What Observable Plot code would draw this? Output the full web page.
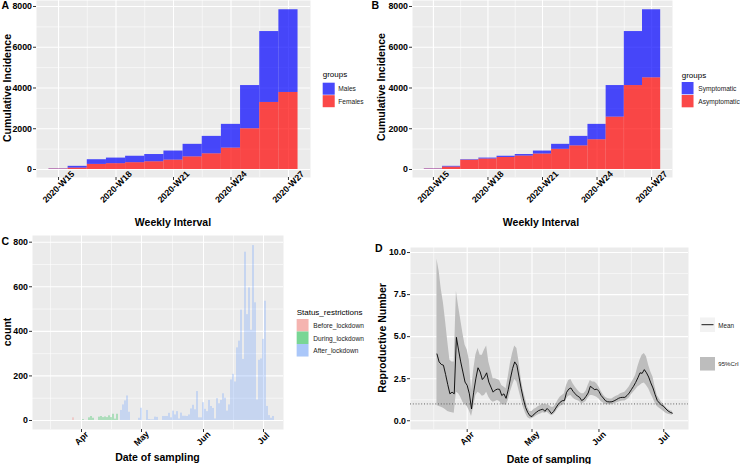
<!DOCTYPE html>
<html>
<head>
<meta charset="utf-8">
<script src="https://cdn.jsdelivr.net/npm/d3@7"></script>
<script src="https://cdn.jsdelivr.net/npm/@observablehq/plot@0.6"></script>
<style>
html,body{margin:0;padding:0;background:#fff;}
#root{position:relative;width:740px;height:464px;overflow:hidden;font-family:"Liberation Sans",Arial,Helvetica,sans-serif;color:#000;}
#root .pane{position:absolute;}
</style>
</head>
<body>
<div id="root"></div>
<script>
// ---------------- DATA ----------------
// Panels A & B : cumulative incidence per ISO week
const weeks = [15,16,17,18,19,20,21,22,23,24,25,26,27];
const weekTicks = [15,18,21,24,27];
const weekMinor = [16.5,19.5,22.5,25.5];
const femalesCum = [20,70,250,285,335,380,460,620,770,1050,2000,3290,3780];
const malesCum   = [15,85,230,275,315,355,445,615,855,1165,2120,3480,4060];
const asymptomaticCum = [20,120,455,515,590,660,760,990,1160,1460,2570,4120,4500];
const symptomaticCum  = [15,35,25,45,60,75,145,245,465,755,1550,2650,3340];
const incidenceTicks = [0,2000,4000,6000,8000];
const incidenceMinor = [1000,3000,5000,7000];

// Panel C : daily counts by date of sampling
const statusNames = ["Before_lockdown","During_lockdown","After_lockdown"];
const statusColors = ["#F8766D","#00BA38","#619CFF"];
const beforeDates = ["2020-03-28"];
const beforeCounts = [12];
const duringDates = ["2020-04-02","2020-04-05","2020-04-06","2020-04-07","2020-04-10","2020-04-11","2020-04-12",
  "2020-04-13","2020-04-14","2020-04-15","2020-04-16","2020-04-17","2020-04-18","2020-04-19"];
const duringCounts = [4,12,18,10,15,18,13,16,13,21,13,28,6,28];
const afterDates = ["2020-04-21","2020-04-22","2020-04-23","2020-04-24","2020-04-25",
  "2020-04-30","2020-05-01","2020-05-04","2020-05-05","2020-05-06","2020-05-07","2020-05-08","2020-05-09",
  "2020-05-12","2020-05-13","2020-05-14","2020-05-15","2020-05-16","2020-05-17","2020-05-18","2020-05-19",
  "2020-05-20","2020-05-21","2020-05-22","2020-05-23","2020-05-24","2020-05-25","2020-05-26","2020-05-27",
  "2020-05-28","2020-05-29","2020-05-30","2020-05-31",
  "2020-06-01","2020-06-02","2020-06-03","2020-06-04","2020-06-05","2020-06-06","2020-06-07","2020-06-08",
  "2020-06-09","2020-06-10","2020-06-11","2020-06-12","2020-06-13","2020-06-14","2020-06-15","2020-06-16",
  "2020-06-17","2020-06-18","2020-06-19","2020-06-20","2020-06-21","2020-06-22","2020-06-23","2020-06-24",
  "2020-06-25","2020-06-26","2020-06-27","2020-06-28","2020-06-29","2020-06-30",
  "2020-07-01","2020-07-02","2020-07-03","2020-07-04","2020-07-05","2020-07-06"];
const afterCounts = [45,70,88,110,37,
  10,55,45,4,3,3,15,14,
  18,18,18,32,12,42,25,40,7,33,19,19,18,25,52,68,48,130,12,12,
  80,50,40,90,63,54,7,98,75,90,120,100,42,70,182,207,173,326,356,495,274,755,475,595,405,785,528,92,270,276,
  364,535,63,22,10,18];
const countTicks = [0,200,400,600,800];
const countMinor = [100,300,500,700];
const monthTicks = ["2020-04-01","2020-05-01","2020-06-01","2020-07-01"];
const monthMinor = ["2020-03-16T12:00Z","2020-04-16","2020-05-16T12:00Z","2020-06-16"];

// Panel D : reproductive number, daily from 2020-03-18 to 2020-07-05
const rStart = "2020-03-18", rEnd = "2020-07-06";
const rMean = [3.97,3.5,3.35,3.3,2.75,2.15,1.6,1.7,1.6,4.96,4.2,3.5,2.9,2.3,
  2.1,1.6,0.7,1.7,2.5,3.15,2.9,2.45,2.6,2.85,2.3,2.0,1.7,1.83,1.88,1.87,1.5,1.6,1.33,1.85,2.5,3.1,3.5,3.3,2.6,1.9,1.3,0.8,0.5,0.3,
  0.25,0.4,0.5,0.6,0.65,0.69,0.56,0.73,0.6,0.42,0.55,0.75,0.95,1.1,1.19,1.2,1.69,1.88,1.95,1.75,1.6,1.47,1.4,1.2,1.28,1.45,1.65,2.05,1.95,1.85,1.88,
  1.75,1.5,1.35,1.19,1.13,1.12,1.13,1.18,1.25,1.33,1.38,1.39,1.39,1.5,1.65,1.85,2.05,2.28,2.55,2.85,2.82,3.04,2.85,2.6,2.25,1.95,1.55,1.2,1.05,0.93,
  0.85,0.7,0.58,0.5,0.45];
const rLow = [0.9,0.85,0.8,0.75,0.65,0.55,0.5,0.48,0.45,1.7,1.6,1.4,1.1,0.95,
  0.85,0.6,0.25,0.8,1.5,1.7,1.6,1.45,1.5,1.7,1.4,1.2,1.1,1.15,1.2,1.15,0.95,0.95,0.9,1.2,1.7,2.1,2.45,2.3,1.8,1.3,0.8,0.45,0.2,0.1,
  0.12,0.2,0.28,0.35,0.4,0.48,0.45,0.5,0.4,0.3,0.35,0.5,0.7,0.85,0.9,0.95,1.3,1.45,1.5,1.35,1.25,1.2,1.15,1.0,1.05,1.15,1.35,1.5,1.5,1.45,1.4,
  1.3,1.15,1.05,0.95,0.95,0.95,0.95,1.0,1.05,1.1,1.15,1.18,1.18,1.25,1.35,1.55,1.7,1.85,2.0,2.1,2.2,2.25,2.1,1.9,1.6,1.35,1.05,0.85,0.75,0.65,
  0.55,0.45,0.38,0.35,0.32];
const rHigh = [9.6,8.9,7.8,7.0,5.9,4.7,3.6,3.5,3.5,7.7,6.8,6.0,5.2,4.5,
  4.2,3.6,1.8,3.0,3.9,4.3,3.9,3.9,4.2,4.45,3.5,3.0,2.5,2.5,2.45,2.4,2.1,2.0,1.9,2.6,3.4,4.0,4.45,4.3,3.5,2.5,1.8,1.3,0.8,0.55,
  0.55,0.69,0.75,0.85,0.9,0.99,0.95,0.95,0.9,0.8,0.8,0.95,1.2,1.4,1.5,1.6,2.1,2.4,2.45,2.2,2.0,1.85,1.7,1.6,1.6,1.75,2.1,2.4,2.3,2.3,2.2,
  2.0,1.75,1.55,1.4,1.33,1.3,1.3,1.38,1.45,1.5,1.6,1.65,1.7,1.85,2.0,2.25,2.45,2.7,3.2,3.6,3.9,4.0,3.8,3.3,2.9,2.6,2.0,1.5,1.3,1.1,
  0.95,0.8,0.68,0.6,0.57];
const rThreshold = [1];
const rTicks = [0,2.5,5,7.5,10];
const rMinor = [1.25,3.75,6.25,8.75];

// ---------------- HELPERS ----------------
const FONT = '"Liberation Sans", Arial, Helvetica, sans-serif';
const PANEL = "#EBEBEB";
const DAY = 864e5;
const APR1 = Date.UTC(2020, 3, 1);
const atDay = d => new Date(APR1 + d * DAY);
const root = document.getElementById("root");
const baseStyle = {fontFamily: FONT, background: "transparent", overflow: "visible", color: "black"};
const tickText = {fontSize: 8.8, fontWeight: "bold", fill: "black", stroke: "#333333", tickSize: 3, label: null};

function backdrop(xMinor, xMajor, yMinor, yMajor) {
  const minor = {stroke: "white", strokeOpacity: 1, strokeWidth: 0.55};
  const major = {stroke: "white", strokeOpacity: 1, strokeWidth: 1.1};
  return [
    Plot.frame({fill: PANEL, stroke: "none"}),
    Plot.gridY(yMinor, minor),
    Plot.gridX(xMinor, minor),
    Plot.gridY(yMajor, major),
    Plot.gridX(xMajor, major)
  ];
}
function mount(svg, left, top) {
  const div = document.createElement("div");
  div.className = "pane";
  div.style.left = left + "px";
  div.style.top = top + "px";
  div.appendChild(svg);
  root.appendChild(div);
}
function weekRows(bottomName, bottomVals, topName, topVals) {
  const rows = [];
  weeks.forEach((w, i) => {
    rows.push({week: w, group: bottomName, value: bottomVals[i]});
    rows.push({week: w, group: topName, value: topVals[i]});
  });
  return rows;
}
function weekPanel(rows, names, width, marginLeft, marginRight) {
  return Plot.plot({
    width, height: 232, marginLeft, marginRight, marginTop: 0, marginBottom: 55,
    style: baseStyle,
    x: {domain: [13.85, 28.15], label: null},
    y: {domain: [-393, 8294], label: null},
    color: {domain: names, range: ["blue", "red"]},
    marks: [
      ...backdrop(weekMinor, weekTicks, incidenceMinor, incidenceTicks),
      Plot.rectY(rows, {x1: d => d.week - 0.5, x2: d => d.week + 0.5, y: "value", fill: "group", fillOpacity: 0.7}),
      Plot.axisY(incidenceTicks, {...tickText, tickFormat: d => String(d), tickPadding: 1.5}),
      Plot.axisX(weekTicks, {...tickText, tickFormat: w => `2020-W${w}`, tickRotate: -45,
        textAnchor: "middle", lineAnchor: "middle", tickPadding: 6.5})
    ]
  });
}

// ---------------- PANEL A ----------------
mount(weekPanel(weekRows("Females", femalesCum, "Males", malesCum), ["Males", "Females"], 320, 36, 10), 0, 0);
// ---------------- PANEL B ----------------
mount(weekPanel(weekRows("Asymptomatic", asymptomaticCum, "Symptomatic", symptomaticCum), ["Symptomatic", "Asymptomatic"], 310, 42, 8), 370, 0);

// ---------------- PANEL C ----------------
const rowsC = [];
[[beforeDates, beforeCounts, statusNames[0]], [duringDates, duringCounts, statusNames[1]], [afterDates, afterCounts, statusNames[2]]]
  .forEach(([dates, counts, status]) => dates.forEach((d, i) => rowsC.push({date: new Date(d), count: counts[i], status})));
const monthTickDates = monthTicks.map(d => new Date(d));
const monthMinorDates = monthMinor.map(d => new Date(d));
mount(Plot.plot({
  width: 290, height: 232, marginLeft: 32, marginRight: 7, marginTop: 3, marginBottom: 35,
  style: baseStyle,
  x: {type: "utc", domain: [atDay(-24.5), atDay(101)], label: null},
  y: {domain: [-40.4, 830], label: null},
  color: {domain: statusNames, range: statusColors},
  marks: [
    ...backdrop(monthMinorDates, monthTickDates, countMinor, countTicks),
    Plot.rectY(rowsC, {x1: d => new Date(+d.date - 0.26 * DAY), x2: d => new Date(+d.date + 0.26 * DAY),
      y: "count", fill: "status", fillOpacity: 0.5}),
    Plot.axisY(countTicks, {...tickText, tickFormat: d => String(d), tickPadding: 1.5}),
    Plot.axisX(monthTickDates, {...tickText, tickFormat: d3.utcFormat("%b"), tickRotate: -45,
      textAnchor: "middle", lineAnchor: "middle", tickPadding: 6})
  ]
}), 0, 232);

// ---------------- PANEL D ----------------
const rDates = d3.utcDay.range(new Date(rStart), new Date(rEnd));
const rowsD = rDates.map((date, i) => ({date, mean: rMean[i], low: rLow[i], high: rHigh[i]}));
mount(Plot.plot({
  width: 330, height: 232, marginLeft: 40, marginRight: 12, marginTop: 15, marginBottom: 35,
  style: baseStyle,
  x: {type: "utc", domain: [atDay(-26.25), atDay(102.45)], label: null},
  y: {domain: [-0.52, 10.3], label: null},
  marks: [
    ...backdrop(monthMinorDates, monthTickDates, rMinor, rTicks),
    Plot.areaY(rowsD, {x: "date", y1: "low", y2: "high", fill: "#BDBDBD"}),
    Plot.ruleY(rThreshold, {stroke: "#555555", strokeWidth: 0.9, strokeDasharray: "1,1.8"}),
    Plot.lineY(rowsD, {x: "date", y: "mean", stroke: "black", strokeWidth: 0.9}),
    Plot.axisY(rTicks, {...tickText, tickFormat: d => d.toFixed(1), tickPadding: 1.5}),
    Plot.axisX(monthTickDates, {...tickText, tickFormat: d3.utcFormat("%b"), tickRotate: -45,
      textAnchor: "middle", lineAnchor: "middle", tickPadding: 6})
  ]
}), 370, 232);

// ---------------- TITLES & LEGENDS (overlay) ----------------
const ov = d3.select(root).append("svg")
  .attr("width", 740).attr("height", 464)
  .style("position", "absolute").style("left", "0px").style("top", "0px")
  .style("pointer-events", "none")
  .attr("font-family", FONT);
function txt(s, x, y, {size = 10.5, weight = "bold", anchor = "middle", rotate = 0, baseline = "central", fill = "black"} = {}) {
  const t = ov.append("text").text(s).attr("x", x).attr("y", y)
    .attr("font-size", size).attr("font-weight", weight).attr("text-anchor", anchor)
    .attr("dominant-baseline", baseline).attr("fill", fill);
  if (rotate) t.attr("transform", `rotate(${rotate},${x},${y})`);
  return t;
}
function box(x, y, w, h, fill, opacity = 1) {
  ov.append("rect").attr("x", x).attr("y", y).attr("width", w).attr("height", h).attr("fill", "#F2F2F2");
  ov.append("rect").attr("x", x).attr("y", y).attr("width", w).attr("height", h).attr("fill", fill).attr("fill-opacity", opacity);
}
// panel tags
txt("A", 1.5, 9.3, {anchor: "start", baseline: "alphabetic"});
txt("B", 371.5, 9.3, {anchor: "start", baseline: "alphabetic"});
txt("C", 1.5, 245.3, {anchor: "start", baseline: "alphabetic"});
txt("D", 375, 252, {anchor: "start", baseline: "alphabetic"});
// axis titles
txt("Cumulative Incidence", 7, 88, {rotate: -90});
txt("Weekly Interval", 173, 222);
txt("Cumulative Incidence", 381, 87, {rotate: -90});
txt("Weekly Interval", 541, 222);
txt("count", 7, 332, {rotate: -90});
txt("Date of sampling", 157.5, 457);
txt("Reproductive Number", 382, 338, {rotate: -90});
txt("Date of sampling", 549, 458.5);
// legend A
const small = {size: 6.6, weight: "normal", anchor: "start", fill: "#1a1a1a"};
const lgTitle = {size: 8, weight: "normal", anchor: "start"};
txt("groups", 322.7, 74, lgTitle);
box(322.7, 82.7, 12, 12, "blue", 0.7); txt("Males", 338.3, 88.7, small);
box(322.7, 95.2, 12, 12, "red", 0.7); txt("Females", 338.3, 101.2, small);
// legend B
txt("groups", 681.7, 75.8, lgTitle);
box(681.7, 82, 11.8, 12.3, "blue", 0.7); txt("Symptomatic", 698.3, 88.2, small);
box(681.7, 95, 11.8, 12.3, "red", 0.7); txt("Asymptomatic", 698.3, 101.2, small);
// legend C
txt("Status_restrictions", 296.7, 312, lgTitle);
statusNames.forEach((s, i) => {
  box(296.7, 319 + i * 12.5, 11.8, 12.5, statusColors[i], 0.5);
  txt(s, 313.3, 325.3 + i * 12.7, small);
});
// legend D
ov.append("rect").attr("x", 700).attr("y", 317.5).attr("width", 15).attr("height", 14.5).attr("fill", "#F2F2F2");
ov.append("line").attr("x1", 701.5).attr("x2", 713.5).attr("y1", 324.7).attr("y2", 324.7).attr("stroke", "black").attr("stroke-width", 0.9);
txt("Mean", 718.3, 325.2, {...small, size: 6.3});
box(700, 357, 15, 13.5, "#BDBDBD", 1);
txt("95%CrI", 718.3, 363.7, {...small, size: 6.1});
</script>
</body>
</html>
